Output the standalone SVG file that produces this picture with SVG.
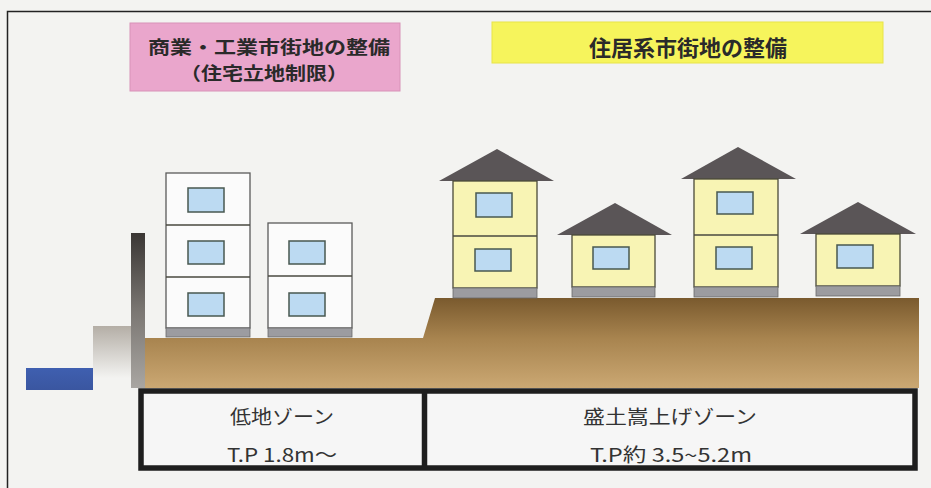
<svg xmlns="http://www.w3.org/2000/svg" width="931" height="488" viewBox="0 0 931 488">
  <defs>
    <linearGradient id="soil" gradientUnits="userSpaceOnUse" x1="0" y1="298" x2="0" y2="388">
      <stop offset="0" stop-color="#7a5a2e"/>
      <stop offset="0.45" stop-color="#a8844f"/>
      <stop offset="1" stop-color="#cba873"/>
    </linearGradient>
    <linearGradient id="wall" x1="0" y1="0" x2="0" y2="1">
      <stop offset="0" stop-color="#3a3634"/>
      <stop offset="0.5" stop-color="#7a7672"/>
      <stop offset="1" stop-color="#a9a6a2"/>
    </linearGradient>
    <linearGradient id="step" x1="0" y1="0" x2="0" y2="1">
      <stop offset="0" stop-color="#b4aea6"/>
      <stop offset="1" stop-color="#f3f3f1"/>
    </linearGradient>
    <linearGradient id="water" x1="0" y1="0" x2="0" y2="1">
      <stop offset="0" stop-color="#3f5fb0"/>
      <stop offset="1" stop-color="#3a56a0"/>
    </linearGradient>
  </defs>
  <style>
    .title { font-family: "Noto Sans CJK JP", "Noto Sans", sans-serif; font-weight: bold; fill: #2a2a2a; text-anchor: middle; }
    .zone { font-family: "Noto Sans CJK JP", "Noto Sans", sans-serif; fill: #333333; text-anchor: middle; font-size: 19px; }
    .block { fill: #fbfbfb; stroke: #5a5a5a; stroke-width: 1.3; }
    .house { fill: #f8f4b4; stroke: #4a4a38; stroke-width: 1.3; }
    .roof { fill: #5a5557; }
    .base { fill: #9c9ca0; stroke: #6a6a6a; stroke-width: 0.8; }
    .win { fill: #bcdaf2; stroke: #485850; stroke-width: 1.5; }
    .floor { stroke: #4a4a40; stroke-width: 1.3; fill: none; }
    .table { fill: #f6f6f6; stroke: #1e1e1e; stroke-width: 5.5; }
  </style>

  <!-- paper -->
  <rect x="0" y="0" width="931" height="488" fill="#f3f3f1"/>
  <path d="M7.5 488 V11.5 H931" fill="none" stroke="#222" stroke-width="1.5"/>

  <!-- headings -->
  <g id="heading-commercial">
    <rect x="130" y="23" width="270" height="68" fill="#eaa6cc" stroke="#d892b8" stroke-width="1"/>
    <text class="title" x="269" y="54" font-size="18" textLength="242" lengthAdjust="spacingAndGlyphs">商業・工業市街地の整備</text>
    <text class="title" x="264" y="80" font-size="18" textLength="168" lengthAdjust="spacingAndGlyphs">（住宅立地制限）</text>
  </g>
  <g id="heading-residential">
    <rect x="492" y="22" width="391" height="41" fill="#f6f45c" stroke="#e8e448" stroke-width="1"/>
    <text class="title" x="688" y="56" font-size="22">住居系市街地の整備</text>
  </g>

  <!-- sea, step and sea wall -->
  <g id="sea">
    <rect x="26" y="368" width="67" height="22" fill="url(#water)"/>
    <rect x="93" y="326" width="38" height="52" fill="url(#step)"/>
    <rect x="131" y="233" width="14" height="155" fill="url(#wall)"/>
  </g>

  <!-- ground: lowland and raised land -->
  <g id="ground">
    <path d="M145 338 H423 L435 298 H919 V388 H145 Z" fill="url(#soil)"/>
  </g>

  <!-- commercial blocks -->
  <g id="block-tall">
    <rect class="block" x="166" y="173" width="84" height="155"/>
    <path class="floor" d="M166 225 H250 M166 277 H250"/>
    <rect class="base" x="166" y="328" width="84" height="9"/>
    <rect class="win" x="188" y="188" width="36" height="24"/>
    <rect class="win" x="188" y="241" width="36" height="23"/>
    <rect class="win" x="188" y="293" width="36" height="23"/>
  </g>
  <g id="block-low">
    <rect class="block" x="268" y="223" width="84" height="105"/>
    <path class="floor" d="M268 276 H352"/>
    <rect class="base" x="268" y="328" width="84" height="9"/>
    <rect class="win" x="289" y="241" width="36" height="23"/>
    <rect class="win" x="289" y="293" width="36" height="23"/>
  </g>

  <!-- houses -->
  <g id="house-1">
    <polygon class="roof" points="497,149 554,181 439,181"/>
    <rect class="house" x="453" y="181" width="84" height="107"/>
    <path class="floor" d="M453 236 H537"/>
    <rect class="base" x="453" y="288" width="84" height="10"/>
    <rect class="win" x="476" y="193" width="36" height="24"/>
    <rect class="win" x="475" y="249" width="36" height="22"/>
  </g>
  <g id="house-2">
    <polygon class="roof" points="615,203 672,235 557,235"/>
    <rect class="house" x="572" y="235" width="83" height="52"/>
    <rect class="base" x="572" y="287" width="83" height="10"/>
    <rect class="win" x="593" y="247" width="36" height="22"/>
  </g>
  <g id="house-3">
    <polygon class="roof" points="738,147 796,179 681,179"/>
    <rect class="house" x="694" y="179" width="84" height="108"/>
    <path class="floor" d="M694 235 H778"/>
    <rect class="base" x="694" y="287" width="84" height="10"/>
    <rect class="win" x="717" y="192" width="36" height="22"/>
    <rect class="win" x="716" y="247" width="36" height="22"/>
  </g>
  <g id="house-4">
    <polygon class="roof" points="858,202 916,234 800,234"/>
    <rect class="house" x="816" y="234" width="84" height="52"/>
    <rect class="base" x="816" y="286" width="84" height="10"/>
    <rect class="win" x="837" y="245" width="36" height="23"/>
  </g>

  <!-- zone table -->
  <g id="zone-table">
    <rect class="table" x="141" y="391" width="774" height="77"/>
    <line x1="424.5" y1="391" x2="424.5" y2="468" stroke="#1e1e1e" stroke-width="5.5"/>
  </g>
  <g id="zone-lowland">
    <text class="zone" x="282" y="424" textLength="104" lengthAdjust="spacingAndGlyphs">低地ゾーン</text>
    <text class="zone" x="282" y="462" textLength="110" lengthAdjust="spacingAndGlyphs">T.P 1.8m〜</text>
  </g>
  <g id="zone-raised">
    <text class="zone" x="670" y="424" textLength="174" lengthAdjust="spacingAndGlyphs">盛土嵩上げゾーン</text>
    <text class="zone" x="671" y="462" textLength="162" lengthAdjust="spacingAndGlyphs">T.P約 3.5~5.2m</text>
  </g>
</svg>
